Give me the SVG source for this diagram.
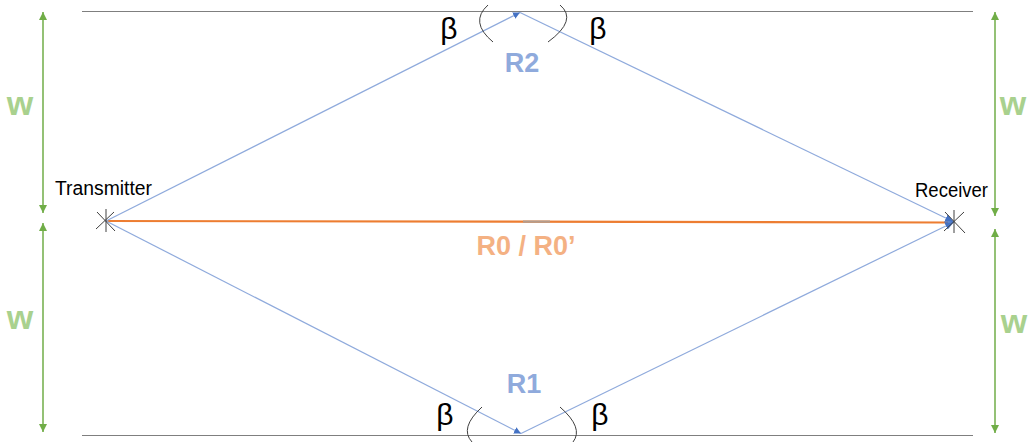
<svg xmlns="http://www.w3.org/2000/svg" width="1028" height="442" viewBox="0 0 1028 442">
<style>
.bound{stroke:#7f7f7f;stroke-width:1.2;fill:none}
.ray{stroke:#8faadc;stroke-width:1.2;fill:none}
.dir{stroke:#ed7d31;stroke-width:2.2;fill:none}
.dim{stroke:#70ad47;stroke-width:1.5;fill:none}
.arc{stroke:#404040;stroke-width:1;fill:none}
.cross{stroke:#404040;stroke-width:1;fill:none}
.lbl{font-family:"Liberation Sans",Arial,sans-serif;fill:#000}
.beta{font-family:"Liberation Sans",Arial,sans-serif;font-size:30px;fill:#000;text-anchor:middle}
.rl{font-family:"Liberation Sans",Arial,sans-serif;font-weight:bold;font-size:27px;text-anchor:middle}
.w{font-family:"Liberation Sans",Arial,sans-serif;font-weight:bold;font-size:34px;fill:#a9d18e;text-anchor:middle}
</style>
<defs>
<marker id="ab" markerUnits="userSpaceOnUse" markerWidth="10" markerHeight="8" refX="9" refY="4" orient="auto">
<path d="M0,0 L9,4 L0,8 z" fill="#4472c4"/>
</marker>
<marker id="abs" markerUnits="userSpaceOnUse" markerWidth="8" markerHeight="7" refX="7" refY="3.5" orient="auto">
<path d="M0,0 L7,3.5 L0,7 z" fill="#4472c4"/>
</marker>
<marker id="ag" markerUnits="userSpaceOnUse" markerWidth="9" markerHeight="8" refX="8" refY="4" orient="auto-start-reverse">
<path d="M0,0 L8,4 L0,8 z" fill="#70ad47"/>
</marker>
</defs>

<g id="boundaries">
<line class="bound" x1="82" y1="11.5" x2="973" y2="11.5"/>
<line class="bound" x1="82" y1="435.5" x2="973" y2="435.5"/>
</g>

<g id="connectors">
<line class="dir" x1="106" y1="221" x2="948" y2="222.5"/>
<line x1="523" y1="221.6" x2="550" y2="221.7" stroke="#b49c8c" stroke-width="2.2"/>
<line class="ray" x1="106" y1="221" x2="520" y2="12.5" marker-end="url(#abs)"/>
<line class="ray" x1="520" y1="12.5" x2="954" y2="222" marker-end="url(#ab)"/>
<line class="ray" x1="106" y1="221" x2="521" y2="433.5" marker-end="url(#abs)"/>
<line class="ray" x1="521" y1="433.5" x2="954" y2="222" marker-end="url(#ab)"/>
<line class="dim" x1="43" y1="12" x2="43" y2="213" marker-start="url(#ag)" marker-end="url(#ag)"/>
<line class="dim" x1="43" y1="223" x2="43" y2="432" marker-start="url(#ag)" marker-end="url(#ag)"/>
<line class="dim" x1="995" y1="12" x2="995" y2="216" marker-start="url(#ag)" marker-end="url(#ag)"/>
<line class="dim" x1="995" y1="229" x2="995" y2="433" marker-start="url(#ag)" marker-end="url(#ag)"/>
</g>

<g id="transmitter">
<line class="cross" x1="106" y1="209" x2="106" y2="232"/>
<line class="cross" x1="97" y1="212" x2="115" y2="231"/>
<line class="cross" x1="114" y1="212" x2="96" y2="229"/>
<text class="lbl" x="55" y="195" font-size="20" textLength="97" lengthAdjust="spacingAndGlyphs">Transmitter</text>
</g>

<g id="receiver">
<line class="cross" x1="954" y1="210" x2="954" y2="233"/>
<line class="cross" x1="945" y1="212" x2="965" y2="233"/>
<line class="cross" x1="964" y1="212" x2="944" y2="231"/>
<text class="lbl" x="915" y="197" font-size="20" textLength="73" lengthAdjust="spacingAndGlyphs">Receiver</text>
</g>

<g id="R2">
<path class="arc" d="M488,5 Q469,22 493,42"/>
<path class="arc" d="M560,5 Q578,20 548,42"/>
<text class="beta" x="449" y="39">β</text>
<text class="beta" x="598" y="39">β</text>
<text class="rl" x="522" y="72" fill="#8faadc">R2</text>
</g>

<g id="R1">
<path class="arc" d="M482,407 Q459,428 472,442"/>
<path class="arc" d="M560,407 Q584,428 573,442"/>
<text class="beta" x="445" y="425">β</text>
<text class="beta" x="600" y="425">β</text>
<text class="rl" x="524" y="393" fill="#8faadc">R1</text>
</g>

<g id="R0">
<text class="rl" x="526" y="255" fill="#f4b183">R0 / R0’</text>
</g>

<g id="widths">
<text class="w" x="20" y="115">w</text>
<text class="w" x="20" y="329">w</text>
<text class="w" x="1013" y="115">w</text>
<text class="w" x="1014" y="333">w</text>
</g>
</svg>
